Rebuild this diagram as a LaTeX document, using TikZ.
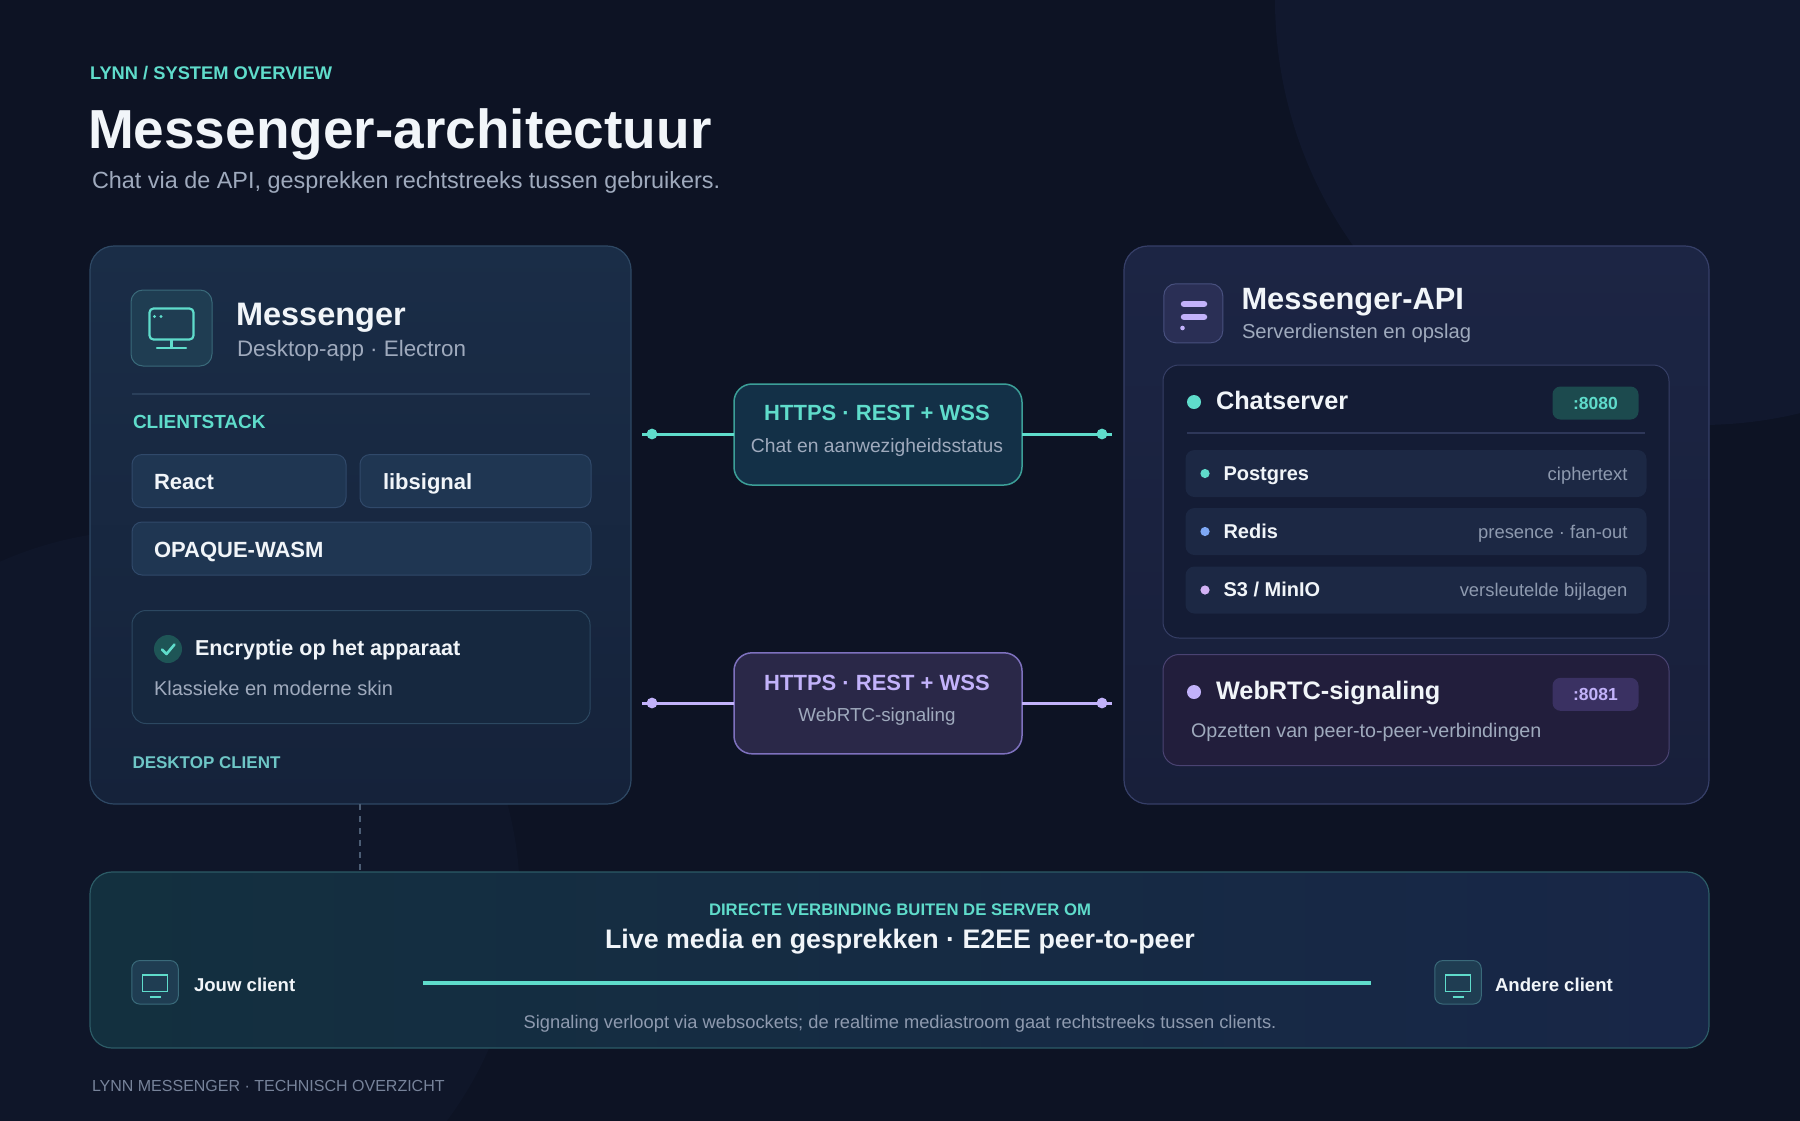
\documentclass[tikz,border=0pt]{standalone}
\usepackage{fontspec}
\setmainfont{Liberation Sans}
\definecolor{bg}{HTML}{0D1324}
\definecolor{bgglow}{HTML}{11182E}
\definecolor{bgglowb}{HTML}{0F1629}
\definecolor{teal}{HTML}{5FDCCB}
\definecolor{tealdim}{HTML}{6EC6C6}
\definecolor{lav}{HTML}{C2B2FA}
\definecolor{txt}{HTML}{F1F5F9}
\definecolor{sub}{HTML}{9FAABD}
\definecolor{mut}{HTML}{8E9AAF}
\definecolor{foot}{HTML}{77839A}
\definecolor{lpTop}{HTML}{1A2D47}
\definecolor{lpBot}{HTML}{15223A}
\definecolor{lpLine}{HTML}{2E4864}
\definecolor{rpTop}{HTML}{1C2544}
\definecolor{rpBot}{HTML}{181F3A}
\definecolor{rpLine}{HTML}{363F68}
\definecolor{chipFill}{HTML}{1F3652}
\definecolor{chipLine}{HTML}{30496A}
\definecolor{encFill}{HTML}{16283F}
\definecolor{encLine}{HTML}{2C4861}
\definecolor{icoFill}{HTML}{1F3D52}
\definecolor{icoLine}{HTML}{3A6A7A}
\definecolor{ricoFill}{HTML}{2A2F55}
\definecolor{ricoLine}{HTML}{48507E}
\definecolor{chkFill}{HTML}{1E5556}
\definecolor{divL}{HTML}{2A3F5A}
\definecolor{divR}{HTML}{2E3759}
\definecolor{csFill}{HTML}{141C35}
\definecolor{csLine}{HTML}{363F66}
\definecolor{rowFill}{HTML}{1C2844}
\definecolor{wrFill}{HTML}{221E3C}
\definecolor{wrLine}{HTML}{4A4372}
\definecolor{b1Fill}{HTML}{1C4A4E}
\definecolor{b2Fill}{HTML}{3A3162}
\definecolor{redisDot}{HTML}{7EA8F5}
\definecolor{s3Dot}{HTML}{D2B2F5}
\definecolor{cAFill}{HTML}{133047}
\definecolor{cALine}{HTML}{3C9F98}
\definecolor{cBFill}{HTML}{2A2848}
\definecolor{cBLine}{HTML}{7E71BE}
\definecolor{btL}{HTML}{13303F}
\definecolor{btR}{HTML}{182647}
\definecolor{btLine}{HTML}{2C5B66}
\definecolor{dashC}{HTML}{4C5D74}
\newcommand\fsz[1]{\fontsize{#1}{#1}\selectfont}
\tikzset{
  every node/.style={inner sep=0pt, outer sep=0pt},
  lpanel/.style={draw=lpLine, line width=1.2, rounded corners=24, top color=lpTop, bottom color=lpBot},
  rpanel/.style={draw=rpLine, line width=1.2, rounded corners=24, top color=rpTop, bottom color=rpBot},
  bpanel/.style={draw=btLine, line width=1.2, rounded corners=22, left color=btL, right color=btR},
  chip/.style={draw=chipLine, line width=1, fill=chipFill, rounded corners=10},
  encbox/.style={draw=encLine, line width=1, fill=encFill, rounded corners=14},
  csbox/.style={draw=csLine, line width=1, fill=csFill, rounded corners=16},
  wrbox/.style={draw=wrLine, line width=1, fill=wrFill, rounded corners=16},
  rowbox/.style={fill=rowFill, rounded corners=9},
  conA/.style={draw=cALine, line width=1.5, fill=cAFill, rounded corners=18},
  conB/.style={draw=cBLine, line width=1.5, fill=cBFill, rounded corners=18},
  icobox/.style={draw=icoLine, line width=1, fill=icoFill, rounded corners=12},
  ricobox/.style={draw=ricoLine, line width=1, fill=ricoFill, rounded corners=12},
  cicobox/.style={draw=icoLine, line width=1, fill=icoFill, rounded corners=8},
  badgeA/.style={fill=b1Fill, rounded corners=8},
  badgeB/.style={fill=b2Fill, rounded corners=8},
  wireA/.style={teal, line width=3},
  wireB/.style={lav, line width=3},
  lbl/.style={anchor=base west},
  clbl/.style={anchor=base},
  rlbl/.style={anchor=base east},
}
\begin{document}
\begin{tikzpicture}[x=1pt,y=-1pt]
\useasboundingbox (0,0) rectangle (1800,1120);
\fill[bg] (-5,-5) rectangle (1805,1125);
\begin{scope}
\clip (0,0) rectangle (1800,1120);
\fill[bgglow] (1700,0) circle (425);
\fill[bgglowb] (150,900) circle (370);
\end{scope}

% header
\node[lbl, text=teal, font=\fsz{18.3}\bfseries] (kicker) at (90,79.5) {LYNN / SYSTEM OVERVIEW};
\node[lbl, text=txt, font=\fsz{55}\bfseries] (title) at (88,148) {Messenger-architectuur};
\node[lbl, text=sub, font=\fsz{23.4}] (subtitle) at (92,188) {Chat via de API, gesprekken rechtstreeks tussen gebruikers.};

% left panel
\node[lpanel, minimum width=541, minimum height=558] (left) at (360.5,525) {};
\node[icobox, minimum width=81, minimum height=76] (licon) at (171.5,328) {};
\draw[teal, line width=2.2, rounded corners=4] (149.5,308.5) rectangle (193.5,339.5);
\fill[teal] (154.5,316.5) circle (1.7) (161,316.5) circle (1.7);
\draw[teal, line width=2.2] (171.5,339.5) -- (171.5,348);
\draw[teal, line width=2.4, line cap=round] (157,348) -- (186,348);
\node[lbl, text=txt, font=\fsz{32.5}\bfseries] (lname) at (236,325) {Messenger};
\node[lbl, text=sub, font=\fsz{22.4}] (lsub) at (237,356) {Desktop-app · Electron};
\draw[divL, line width=1.2] (132,394) -- (590,394);
\node[lbl, text=teal, font=\fsz{19}\bfseries] (stack) at (133,428) {CLIENTSTACK};
\node[chip, minimum width=214, minimum height=53] (react) at (239,481) {};
\node[lbl, text=txt, font=\fsz{22}\bfseries] at (154,489) {React};
\node[chip, minimum width=231, minimum height=53] (libsig) at (475.5,481) {};
\node[lbl, text=txt, font=\fsz{22}\bfseries] at (383,489) {libsignal};
\node[chip, minimum width=459, minimum height=53] (opaque) at (361.5,548.5) {};
\node[lbl, text=txt, font=\fsz{22}\bfseries] at (154,557) {OPAQUE-WASM};
\node[encbox, minimum width=458, minimum height=113] (enc) at (361,667) {};
\node[circle, fill=chkFill, minimum size=28] (chk) at (168,649) {};
\draw[teal, line width=2.6, line cap=round, line join=round] (162,649.5) -- (166.5,654) -- (174.5,644.5);
\node[lbl, text=txt, font=\fsz{21.6}\bfseries] at (195,655) {Encryptie op het apparaat};
\node[lbl, text=sub, font=\fsz{20}] at (154,695) {Klassieke en moderne skin};
\node[lbl, text=tealdim, font=\fsz{17}\bfseries] (dtc) at (132.5,768) {DESKTOP CLIENT};

% right panel
\node[rpanel, minimum width=585, minimum height=558] (right) at (1416.5,525) {};
\node[ricobox, minimum width=59, minimum height=59] (ricon) at (1193.3,313.3) {};
\draw[lav, line width=6.5, line cap=round] (1184,304) -- (1204,304) (1184,317) -- (1204,317);
\fill[lav] (1182.5,328) circle (2.3);
\node[lbl, text=txt, font=\fsz{30.8}\bfseries] (rname) at (1241.5,309) {Messenger-API};
\node[lbl, text=sub, font=\fsz{20.2}] (rsub) at (1242,338) {Serverdiensten en opslag};

\node[csbox, minimum width=506, minimum height=273] (chat) at (1416,501.5) {};
\fill[teal] (1194,402) circle (7);
\node[lbl, text=txt, font=\fsz{25.3}\bfseries] (chatlbl) at (1216,409) {Chatserver};
\node[badgeA, minimum width=86, minimum height=33] (b8080) at (1595.5,403) {};
\node[text=teal, font=\fsz{17.5}\bfseries, anchor=base] at (1595.5,409) {:8080};
\draw[divR, line width=1.2] (1187,433) -- (1645,433);

\node[rowbox, minimum width=461, minimum height=47] (pg) at (1416,473.5) {};
\fill[teal] (1205,473.5) circle (4.6);
\node[lbl, text=txt, font=\fsz{20}\bfseries] at (1223.5,480) {Postgres};
\node[rlbl, text=mut, font=\fsz{18.4}] at (1627.5,480) {ciphertext};

\node[rowbox, minimum width=461, minimum height=47] (redis) at (1416,531.5) {};
\fill[redisDot] (1205,531.5) circle (4.6);
\node[lbl, text=txt, font=\fsz{20}\bfseries] at (1223.5,538) {Redis};
\node[rlbl, text=mut, font=\fsz{18.4}] at (1627.5,538) {presence · fan-out};

\node[rowbox, minimum width=461, minimum height=47] (s3) at (1416,590) {};
\fill[s3Dot] (1205,590) circle (4.6);
\node[lbl, text=txt, font=\fsz{20}\bfseries] at (1223.5,596) {S3 / MinIO};
\node[rlbl, text=mut, font=\fsz{18.4}] at (1627.5,596) {versleutelde bijlagen};

\node[wrbox, minimum width=506, minimum height=111] (webrtc) at (1416,710) {};
\fill[lav] (1194,692) circle (7);
\node[lbl, text=txt, font=\fsz{25.3}\bfseries] (wrlbl) at (1216,699) {WebRTC-signaling};
\node[badgeB, minimum width=86, minimum height=33] (b8081) at (1595.5,694.3) {};
\node[text=lav, font=\fsz{17.5}\bfseries, anchor=base] at (1595.5,700.3) {:8081};
\node[lbl, text=sub, font=\fsz{19.7}] at (1191,737) {Opzetten van peer-to-peer-verbindingen};

% connectors
\node[conA, minimum width=288, minimum height=101] (httpsA) at (878,434.5) {};
\node[clbl, text=teal, font=\fsz{22}\bfseries] at (877,420.7) {HTTPS · REST + WSS};
\node[clbl, text=sub, font=\fsz{19.3}] at (877,452.7) {Chat en aanwezigheidsstatus};
\coordinate (aL) at (642,434);
\coordinate (aR) at (1112,434);
\draw[wireA] (aL) -- (httpsA.west |- aL);
\draw[wireA] (httpsA.east |- aR) -- (aR);
\fill[teal] (652,434) circle (5.4) (1102,434) circle (5.4);

\node[conB, minimum width=288, minimum height=101] (httpsB) at (878,703.3) {};
\node[clbl, text=lav, font=\fsz{22}\bfseries] at (877,690) {HTTPS · REST + WSS};
\node[clbl, text=sub, font=\fsz{18.8}] at (877,721.7) {WebRTC-signaling};
\coordinate (bL) at (642,703);
\coordinate (bR) at (1112,703);
\draw[wireB] (bL) -- (httpsB.west |- bL);
\draw[wireB] (httpsB.east |- bR) -- (bR);
\fill[lav] (652,703) circle (5.4) (1102,703) circle (5.4);

% bottom panel
\node[bpanel, minimum width=1619, minimum height=176] (p2p) at (899.5,960) {};
\coordinate (dashTop) at (360,804);
\draw[dashC, line width=1.5, dash pattern=on 6pt off 6pt] (dashTop) -- (dashTop |- p2p.north);
\node[clbl, text=teal, font=\fsz{16.7}\bfseries] (p2pk) at (900,915) {DIRECTE VERBINDING BUITEN DE SERVER OM};
\node[clbl, text=txt, font=\fsz{26.8}\bfseries] (p2pt) at (900,948) {Live media en gesprekken · E2EE peer-to-peer};
\node[cicobox, minimum width=46.5, minimum height=43.5] (you) at (155,982.3) {};
\draw[teal, line width=1.8] (142.5,975) rectangle (167.5,991.5);
\draw[teal, line width=2] (149.5,997) -- (160.5,997);
\node[lbl, text=txt, font=\fsz{18.6}\bfseries] (youl) at (194,991) {Jouw client};
\node[cicobox, minimum width=46.5, minimum height=43.5] (other) at (1458,982.3) {};
\draw[teal, line width=1.8] (1445.5,975) rectangle (1470.5,991.5);
\draw[teal, line width=2] (1452.5,997) -- (1463.5,997);
\node[lbl, text=txt, font=\fsz{18.6}\bfseries] (otherl) at (1495,991) {Andere client};
\coordinate (mL) at (423,983);
\coordinate (mR) at (1371,983);
\draw[teal, line width=3.4] (mL) -- (mR);
\node[clbl, text=mut, font=\fsz{18.3}] (p2ps) at (900,1028) {Signaling verloopt via websockets; de realtime mediastroom gaat rechtstreeks tussen clients.};

% footer
\node[lbl, text=foot, font=\fsz{16}] (footer) at (92,1091) {LYNN MESSENGER · TECHNISCH OVERZICHT};
\end{tikzpicture}
\end{document}
